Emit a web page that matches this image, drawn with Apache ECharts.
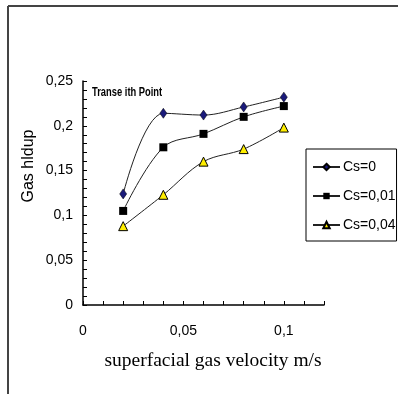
<!DOCTYPE html>
<html>
<head>
<meta charset="utf-8">
<script src="https://cdn.jsdelivr.net/npm/echarts@6/dist/echarts.min.js"></script>
<style>
  html, body { margin: 0; padding: 0; background: #fff; }
  #chart { width: 398px; height: 394px; }
</style>
</head>
<body>
<div id="chart"></div>
<script>
// superficial gas velocity (m/s)
const velocity = [0.02, 0.04, 0.06, 0.08, 0.1];
// gas holdup for each solids concentration
const holdupCs0 = [0.124, 0.214, 0.212, 0.221, 0.232];
const holdupCs001 = [0.105, 0.176, 0.191, 0.210, 0.222];
const holdupCs004 = [0.088, 0.123, 0.160, 0.174, 0.198];
const seriesNames = ['Cs=0', 'Cs=0,01', 'Cs=0,04'];
const xLabelValues = [0, 0.05, 0.1];
const yLabelValues = [0, 0.05, 0.1, 0.15, 0.2, 0.25];

const comma = (v) => String(+v.toFixed(3)).replace('.', ',');
const isLabel = (list, v) => list.some(l => Math.abs(l - v) < 1e-6);
const pairs = (ys) => velocity.map((x, i) => [x, ys[i]]);

const lineStyle = { color: '#222', width: 1 };
const labelFont = { color: '#000', fontFamily: 'Arial, Liberation Sans', fontSize: 14 };

const chart = echarts.init(document.getElementById('chart'));
chart.setOption({
    backgroundColor: '#fff',
    animation: false,
    grid: { left: 83, top: 81, right: 74, bottom: 89 },
    xAxis: {
        type: 'value',
        min: 0,
        max: 0.12,
        interval: 0.01,
        axisLine: { lineStyle: { color: '#000', width: 1.5 } },
        axisTick: { inside: true, length: 4, lineStyle: { color: '#000' } },
        splitLine: { show: false },
        axisLabel: Object.assign({
            margin: 19,
            formatter: (v) => isLabel(xLabelValues, v) ? comma(v) : ''
        }, labelFont)
    },
    yAxis: {
        type: 'value',
        min: 0,
        max: 0.25,
        interval: 0.01,
        axisLine: { show: true, lineStyle: { color: '#000', width: 1.5 } },
        axisTick: { show: true, inside: true, length: 4, lineStyle: { color: '#000' } },
        splitLine: { show: false },
        axisLabel: Object.assign({
            margin: 10,
            formatter: (v) => isLabel(yLabelValues, v) ? comma(v) : ''
        }, labelFont)
    },
    legend: {
        orient: 'vertical',
        left: 306,
        top: 149,
        padding: [11, 1, 9, 6],
        itemWidth: 27,
        itemHeight: 8,
        itemGap: 15,
        borderColor: '#000',
        borderWidth: 1,
        backgroundColor: '#fff',
        textStyle: { color: '#000', fontFamily: 'Arial, Liberation Sans', fontSize: 14, padding: [0, 0, 0, -2] },
        data: seriesNames
    },
    series: [
        {
            name: seriesNames[0],
            type: 'line',
            smooth: 0.35,
            data: pairs(holdupCs0),
            symbol: 'diamond',
            symbolSize: [7, 10],
            itemStyle: { color: '#1a1a7a', borderColor: '#000', borderWidth: 0.5 },
            lineStyle: lineStyle
        },
        {
            name: seriesNames[1],
            type: 'line',
            smooth: 0.35,
            data: pairs(holdupCs001),
            symbol: 'rect',
            symbolSize: 8,
            itemStyle: { color: '#000' },
            lineStyle: lineStyle
        },
        {
            name: seriesNames[2],
            type: 'line',
            smooth: 0.35,
            data: pairs(holdupCs004),
            symbol: 'triangle',
            symbolSize: 9,
            itemStyle: { color: '#ffee00', borderColor: '#000', borderWidth: 1 },
            lineStyle: lineStyle
        }
    ],
    graphic: [
        // outer frame
        { type: 'line', shape: { x1: 8, y1: 6, x2: 398, y2: 6 }, style: { stroke: '#444', lineWidth: 2 } },
        { type: 'line', shape: { x1: 8, y1: 6, x2: 8, y2: 394 }, style: { stroke: '#444', lineWidth: 2 } },
        {
            type: 'text', x: 92, y: 92, scaleX: 0.72,
            style: {
                text: 'Transe ith Point', fill: '#000',
                font: 'bold 13px Arial, "Liberation Sans"',
                verticalAlign: 'middle'
            }
        },
        {
            type: 'text', x: 29, y: 166, rotation: Math.PI / 2,
            style: {
                text: 'Gas hldup', fill: '#000',
                font: '16px Arial, "Liberation Sans"',
                align: 'center', verticalAlign: 'middle'
            }
        },
        {
            type: 'text', x: 213, y: 361,
            style: {
                text: 'superfacial gas velocity m/s', fill: '#000',
                font: '19.5px "Liberation Serif", "Times New Roman", serif',
                align: 'center', verticalAlign: 'middle'
            }
        }
    ]
});
</script>
</body>
</html>
